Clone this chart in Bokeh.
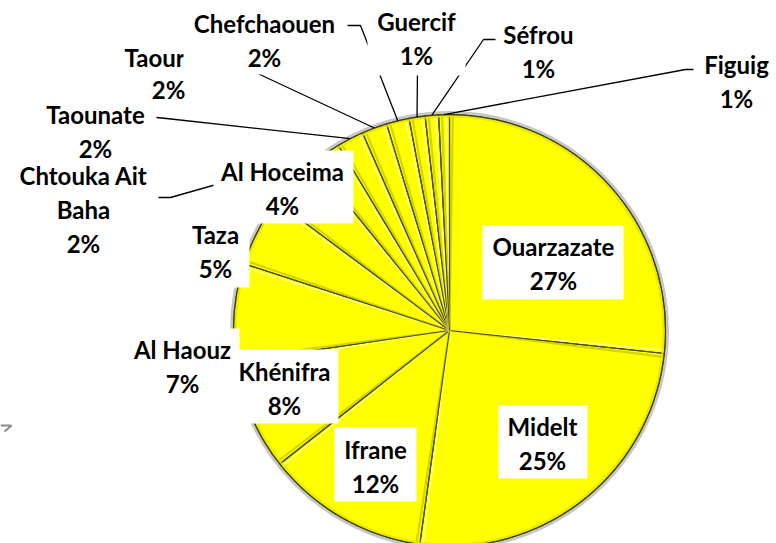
import math
from bokeh.plotting import figure
from bokeh.models import Range1d, ColumnDataSource
from bokeh.core.properties import value
from bokeh.embed import file_html
from bokeh.resources import INLINE

# ---------------- data ----------------
districts = ["Ouarzazate", "Midelt", "Ifrane", "Khénifra", "Al Haouz", "Taza",
             "Al Hoceima", "Chtouka Ait Baha", "Taounate", "Taourirt",
             "Chefchaouen", "Guercif", "Séfrou", "Figuig"]
shares = [26.7, 25.5, 12.2, 8.3, 7.3, 5.2, 4.0, 2.2, 2.0, 1.9, 1.7, 1.2, 1.0, 0.8]
pct_labels = ["27%", "25%", "12%", "8%", "7%", "5%", "4%", "2%", "2%", "2%",
              "2%", "1%", "1%", "1%"]
shown_names = ["Ouarzazate", "Midelt", "Ifrane", "Khénifra", "Al Haouz", "Taza",
               "Al Hoceima", "Chtouka Ait\nBaha", "Taounate", "Taour",
               "Chefchaouen", "Guercif", "Séfrou", "Figuig"]

# ---------------- layout (screen pixels of the 776x543 page) ----------------
PAGE_H = 543
CX, CY, R = 449, 330, 216
FONT = value("Lato")
FSIZE = "24px"
LH = 1.17
def sy(py):
    return PAGE_H - py

# label block centres
lab_pos = {
    "Ouarzazate": (553, 263), "Midelt": (542, 443), "Ifrane": (375, 466),
    "Khénifra": (284, 388), "Al Haouz": (182, 366), "Taza": (215, 251),
    "Al Hoceima": (282, 188), "Chtouka Ait Baha": (83, 209),
    "Taounate": (95, 131), "Guercif": (416, 38),
    "Séfrou": (538, 51), "Figuig": (736, 81),
}
# white label boxes (left, right, top, bottom)
boxes = [(482, 623, 225, 299), (498, 587, 405, 478), (334, 416, 427, 501),
         (236, 338, 349, 423), (128, 239, 328, 402), (180, 249, 213, 287),
         (213, 353, 150, 223), (367, 465, 4, 75)]
# leader line elbows (screen px); last point goes to slice mid on the rim
leaders = {
    "Chtouka Ait Baha": [(158, 197), (170, 197)],
    "Taounate": [(156, 117), (166, 118)],
    "Taourirt": [(214, 72), (255, 72)],
    "Chefchaouen": [(347, 25), (360, 25)],
    "Guercif": [(417, 66)],
    "Séfrou": [(495, 39), (483, 39)],
    "Figuig": [(693, 69), (685, 69)],
}

p = figure(width=776, height=543, output_backend="svg", toolbar_location=None,
           x_range=Range1d(0, 776), y_range=Range1d(0, 543),
           min_border=0, outline_line_color=None)
p.axis.visible = False
p.grid.visible = False
p.background_fill_color = "white"
p.border_fill_color = "white"

total = sum(shares)
starts, ends, mids = [], [], []
cum = 0.0
for s in shares:
    a0 = cum / total
    cum += s
    a1 = cum / total
    starts.append(math.pi / 2 - 2 * math.pi * a0)
    ends.append(math.pi / 2 - 2 * math.pi * a1)
    mids.append(math.pi / 2 - 2 * math.pi * (a0 + a1) / 2)

# soft shadow round the pie
p.circle(x=CX, y=sy(CY), radius=R + 2, fill_color=None,
         line_color="#a0a0a0", line_width=3, line_alpha=0.6)

src = ColumnDataSource(dict(start=starts, end=ends, name=districts, share=shares))
p.wedge(x=CX, y=sy(CY), radius=R, start_angle="start", end_angle="end",
        direction="clock", source=src, fill_color="#FFFF00",
        line_color="#5a5a00", line_width=1.2)

# bevel imitation: shading beside every boundary ray and along the rim
off = math.radians(0.9)
for a in starts:
    xs0 = [CX, CX + R * math.cos(a - off)]
    ys0 = [sy(CY), sy(CY) + R * math.sin(a - off)]
    p.line(xs0, ys0, line_color="#c9c900", line_width=2.2, line_alpha=0.8)
    xs1 = [CX, CX + R * math.cos(a + off)]
    ys1 = [sy(CY), sy(CY) + R * math.sin(a + off)]
    p.line(xs1, ys1, line_color="#ffff8a", line_width=1.6, line_alpha=0.9)
    p.line([CX, CX + R * math.cos(a)], [sy(CY), sy(CY) + R * math.sin(a)],
           line_color="#4a4a00", line_width=1.1)
p.annular_wedge(x=CX, y=sy(CY), inner_radius=R - 3, outer_radius=R - 0.5,
                start_angle=0, end_angle=2 * math.pi, fill_color="#e4e400",
                line_color=None, fill_alpha=0.8)
p.circle(x=CX, y=sy(CY), radius=R, fill_color=None, line_color="#3c3c00",
         line_width=1.2)

# leader lines
for name, pts in leaders.items():
    i = districts.index(name)
    m = mids[i]
    xs = [q[0] for q in pts] + [CX + R * math.cos(m)]
    ys = [sy(q[1]) for q in pts] + [sy(CY) + R * math.sin(m)]
    p.line(xs, ys, line_color="black", line_width=1.3)

# white label boxes
p.quad(left=[b[0] for b in boxes], right=[b[1] for b in boxes],
       top=[sy(b[2]) for b in boxes], bottom=[sy(b[3]) for b in boxes],
       fill_color="white", line_color=None)

# labels
tx, ty, tt = [], [], []
for i, name in enumerate(districts):
    if name in lab_pos:
        x, y = lab_pos[name]
        tx.append(x)
        ty.append(sy(y))
        tt.append(shown_names[i] + "\n" + pct_labels[i])
p.text(x=tx, y=ty, text=tt, text_font=FONT, text_font_style="bold",
       text_font_size=FSIZE, text_align="center", text_baseline="middle",
       text_line_height=LH, text_color="black")

# the clipped Taourirt label, partly hidden by the Chefchaouen box
ti = districts.index("Taourirt")
p.text(x=[124], y=[sy(57)], text=[shown_names[ti]], text_font=FONT,
       text_font_style="bold", text_font_size=FSIZE, text_align="left",
       text_baseline="middle", text_color="black")
p.quad(left=[183], right=[346], top=[sy(4)], bottom=[sy(74)],
       fill_color="white", line_color=None)
p.text(x=[168], y=[sy(89)], text=[pct_labels[ti]], text_font=FONT,
       text_font_style="bold", text_font_size=FSIZE, text_align="center",
       text_baseline="middle", text_color="black")
ci = districts.index("Chefchaouen")
p.text(x=[264], y=[sy(40)], text=[shown_names[ci] + "\n" + pct_labels[ci]],
       text_font=FONT, text_font_style="bold", text_font_size=FSIZE,
       text_align="center", text_baseline="middle", text_line_height=LH,
       text_color="black")

# small grey mark at the left edge
p.line([0, 11, 4], [sy(425), sy(425), sy(431)], line_color="#8a8a8a", line_width=2)

open("out.html", "w").write(file_html(p, INLINE))
